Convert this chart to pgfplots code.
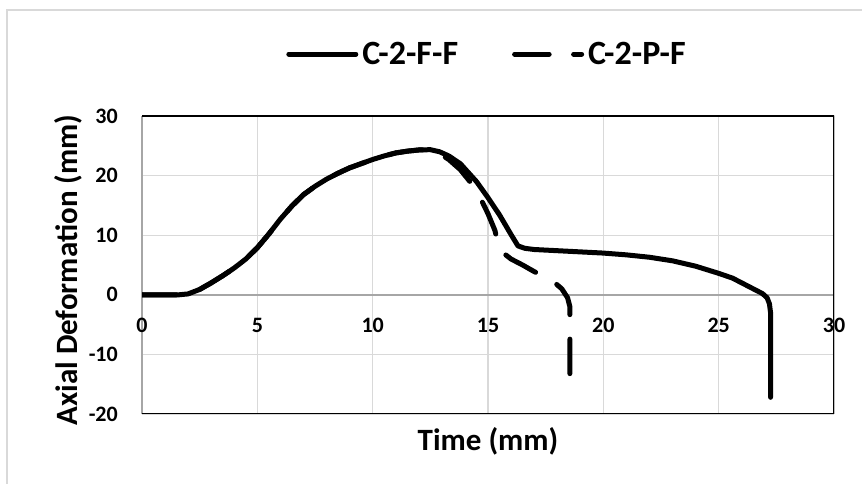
\documentclass[border=0pt]{standalone}
\usepackage{pgfplots}
\pgfplotsset{compat=1.18}
\usepackage{fontspec}
\setmainfont{Carlito}
\definecolor{gridc}{HTML}{D9D9D9}
\definecolor{axc}{HTML}{A6A6A6}
\begin{document}
\begin{tikzpicture}
\useasboundingbox (0,0) rectangle (862pt,484pt);
\clip (0,0) rectangle (862pt,484pt);
\draw[gridc, line width=1.2pt] (7pt,-5pt) -- (7pt,474pt) -- (870pt,474pt);
\begin{axis}[
  at={(142pt,70pt)}, anchor=south west,
  scale only axis, width=692pt, height=298pt,
  xmin=0, xmax=30, ymin=-20, ymax=30,
  axis x line=middle, axis y line=left,
  x axis line style={-, axc, line width=1.5pt},
  y axis line style={-, axc, line width=1.5pt},
  hide obscured x ticks=false, hide obscured y ticks=false,
  xtick={0,5,...,30}, xticklabels={0,5,10,15,20,25,30},
  ytick={-20,-10,...,30}, yticklabels={-20,-10,0,10,20,30},
  major tick length=0pt,
  grid=major, grid style={gridc, line width=1.2pt},
  tick label style={font=\fontsize{22}{26}\selectfont\bfseries, inner sep=0pt},
  xticklabel style={anchor=north, yshift=-23pt},
  yticklabel style={anchor=east, xshift=-24pt},
  xlabel={Time (mm)},
  ylabel={Axial Deformation (mm)},
  every axis x label/.style={at={(axis description cs:0.5,-0.121)}, anchor=base, font=\fontsize{31}{36}\selectfont\bfseries},
  every axis y label/.style={at={(axis description cs:-0.0925,0.483)}, rotate=90, anchor=base, font=\fontsize{31}{36}\selectfont\bfseries},
  legend columns=2,
  legend style={at={(axis description cs:0.5,1.208)}, anchor=center, draw=none, fill=none,
    font=\fontsize{34}{40}\selectfont\bfseries,
    /tikz/every even column/.append style={column sep=50pt},
    nodes={inner sep=4pt}},
  legend image code/.code={\draw[#1] (0pt,0pt) -- (67pt,0pt);},
]
\draw[black, line width=2.5pt] (rel axis cs:0,1) -- (rel axis cs:1,1) -- (rel axis cs:1,0) -- (rel axis cs:0,0);
\addplot[black, line width=5pt, line join=round, line cap=round] coordinates {
(0,0) (1.6,0) (2.0,0.15) (2.5,0.9) (3.0,2.0) (3.5,3.2) (4.0,4.5) (4.5,6.0) (5.0,7.9) (5.5,10.2) (6.0,12.7) (6.5,14.9) (7.0,16.8) (7.5,18.2) (8.0,19.4) (8.5,20.4) (9.0,21.3) (9.5,22.0) (10.0,22.7) (10.5,23.3) (11.0,23.8) (11.5,24.1) (12.0,24.3) (12.5,24.35) (12.9,24.0) (13.3,23.3) (13.8,22.0) (14.5,19.0) (15.0,16.3) (15.5,13.4) (16.0,10.1) (16.3,8.2) (16.6,7.8) (17.0,7.6) (18.0,7.4) (19.0,7.2) (20.0,7.0) (21.0,6.7) (22.0,6.3) (23.0,5.7) (24.0,4.8) (25.0,3.6) (25.6,2.8) (26.0,2.0) (26.5,1.0) (26.9,0.2) (27.1,-0.5) (27.2,-1.5) (27.25,-3) (27.25,-17.2)
};
\addlegendentry{C-2-F-F}
\addplot[black, line width=5pt, line join=round, line cap=round, dash pattern=on 34.5pt off 24.5pt] coordinates {
(0,0) (1.6,0) (2.0,0.15) (2.5,0.9) (3.0,2.0) (3.5,3.2) (4.0,4.5) (4.5,6.0) (5.0,7.9) (5.5,10.2) (6.0,12.7) (6.5,14.9) (7.0,16.8) (7.5,18.2) (8.0,19.4) (8.5,20.4) (9.0,21.3) (9.5,22.0) (10.0,22.7) (10.5,23.3) (11.0,23.8) (11.5,24.1) (12.0,24.3) (12.5,24.3) (12.9,23.7) (13.3,22.7) (13.8,21.0) (14.3,18.6) (14.7,16.0) (15.0,13.6) (15.3,10.8) (15.5,7.5) (16.0,6.0) (16.5,5.0) (17.0,3.9) (17.5,3.0) (17.9,2.0) (18.2,1.0) (18.45,-0.5) (18.55,-2) (18.55,-13.4)
};
\addlegendentry{C-2-P-F}
\end{axis}
\end{tikzpicture}
\end{document}
